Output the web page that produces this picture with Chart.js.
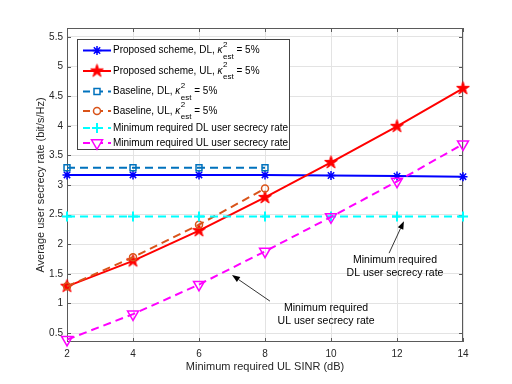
<!DOCTYPE html>
<html>
<head>
<meta charset="utf-8">
<script src="https://cdn.jsdelivr.net/npm/chart.js@4/dist/chart.umd.min.js"></script>
<style>
  html, body { margin:0; padding:0; background:#fff; }
  #wrap { width:512px; height:384px; }
</style>
</head>
<body>
<div id="wrap"><canvas id="cv" width="512" height="384"></canvas></div>
<script>
// data ----------------------------------------------------------
const sinr        = [2, 4, 6, 8, 10, 12, 14];
const proposedDL  = [3.17, 3.17, 3.17, 3.17, 3.16, 3.15, 3.14];
const proposedUL  = [1.29, 1.72, 2.23, 2.79, 3.38, 3.99, 4.63];
const baselineDL  = [3.29, 3.29, 3.29, 3.29];
const baselineUL  = [1.29, 1.78, 2.33, 2.94];
const minReqDL    = [2.47, 2.47, 2.47, 2.47, 2.47, 2.47, 2.47];
const minReqUL    = [0.39, 0.82, 1.32, 1.88, 2.46, 3.06, 3.69];

const xTicks = [2, 4, 6, 8, 10, 12, 14];
const yTicks = [0.5, 1, 1.5, 2, 2.5, 3, 3.5, 4, 4.5, 5, 5.5];

const seriesNames = [
  "Proposed scheme, DL, ",
  "Proposed scheme, UL, ",
  "Baseline, DL, ",
  "Baseline, UL, ",
  "Minimum required DL user secrecy rate",
  "Minimum required UL user secrecy rate"
];
const hasKappa = [true, true, true, true, false, false];

const notes = [
  { lines: ["Minimum required", "DL user secrecy rate"], at: [11.94, 1.73], tail: [11.76, 1.85], tip: [12.21, 2.39] },
  { lines: ["Minimum required", "UL user secrecy rate"], at: [9.85, 0.92],  tail: [8.15, 1.04],  tip: [7.0, 1.48] }
];

// style ---------------------------------------------------------
const FAM  = '"Liberation Sans", Arial, sans-serif';
const INK  = "#262626";
const GRID = "#e3e3e3";
const DASH = [8, 5];
const LEG_FS = 10;

// filled five-point star as a point image
function makePentagram(r, color) {
  const s = Math.ceil(r * 2 + 3);
  const c = document.createElement("canvas");
  c.width = s; c.height = s;
  const g = c.getContext("2d");
  g.translate(s / 2, s / 2);
  g.beginPath();
  for (let i = 0; i < 10; i++) {
    const rr = i % 2 ? r * 0.382 : r;
    const a = -Math.PI / 2 + i * Math.PI / 5;
    g.lineTo(rr * Math.cos(a), rr * Math.sin(a));
  }
  g.closePath();
  g.fillStyle = color; g.fill();
  g.strokeStyle = color; g.lineWidth = 1; g.stroke();
  return c;
}
const starImg = makePentagram(6.8, "#ff0000");

const pts = (ys) => ys.map((y, i) => ({ x: sinr[i], y }));

// markers for the hand-drawn legend
function drawMarker(ctx, kind, x, y, color) {
  ctx.save();
  ctx.strokeStyle = color; ctx.fillStyle = color; ctx.setLineDash([]);
  ctx.beginPath();
  if (kind === "asterisk") {
    ctx.lineWidth = 1.5;
    const r = 4.5;
    for (let k = 0; k < 4; k++) {
      const a = k * Math.PI / 4;
      ctx.moveTo(x - r * Math.cos(a), y - r * Math.sin(a));
      ctx.lineTo(x + r * Math.cos(a), y + r * Math.sin(a));
    }
    ctx.stroke();
  } else if (kind === "pentagram") {
    ctx.drawImage(starImg, x - starImg.width / 2, y - starImg.height / 2);
  } else if (kind === "square") {
    ctx.lineWidth = 1.5;
    ctx.fillStyle = "#fff";
    ctx.rect(x - 3, y - 3, 6, 6); ctx.fill(); ctx.stroke();
  } else if (kind === "circle") {
    ctx.lineWidth = 1.5;
    ctx.fillStyle = "#fff";
    ctx.arc(x, y, 3.5, 0, Math.PI * 2); ctx.fill(); ctx.stroke();
  } else if (kind === "plus") {
    ctx.lineWidth = 2;
    ctx.moveTo(x - 5, y); ctx.lineTo(x + 5, y);
    ctx.moveTo(x, y - 5); ctx.lineTo(x, y + 5);
    ctx.stroke();
  } else if (kind === "tridown") {
    ctx.lineWidth = 1.5;
    ctx.fillStyle = "#fff";
    ctx.moveTo(x - 5.5, y - 3.2); ctx.lineTo(x + 5.5, y - 3.2); ctx.lineTo(x, y + 6.3);
    ctx.closePath(); ctx.fill(); ctx.stroke();
  }
  ctx.restore();
}

// axes box + inward ticks (drawn under the data)
const boxPlugin = {
  id: "box",
  beforeDatasetsDraw(chart) {
    const { ctx, chartArea: a, scales } = chart;
    ctx.save();
    ctx.strokeStyle = "#5a5a5a"; ctx.lineWidth = 1;
    ctx.strokeRect(a.left + 0.5, a.top + 0.5, a.right - a.left - 1, a.bottom - a.top - 1);
    ctx.beginPath();
    xTicks.forEach(v => {
      const px = Math.round(scales.x.getPixelForValue(v)) + 0.5;
      ctx.moveTo(px, a.bottom); ctx.lineTo(px, a.bottom - 4);
      ctx.moveTo(px, a.top); ctx.lineTo(px, a.top + 4);
    });
    yTicks.forEach(v => {
      const py = Math.round(scales.y.getPixelForValue(v)) + 0.5;
      ctx.moveTo(a.left, py); ctx.lineTo(a.left + 4, py);
      ctx.moveTo(a.right, py); ctx.lineTo(a.right - 4, py);
    });
    ctx.stroke();
    ctx.restore();
  }
};

// legend with kappa^2_est labels, plus arrow notes
const overlayPlugin = {
  id: "overlay",
  afterDraw(chart) {
    const { ctx, scales } = chart;
    const ds = chart.data.datasets;
    ctx.save();

    // legend box
    const bx = 77, by = 39, bw = 213, bh = 111;
    ctx.fillStyle = "#fff";
    ctx.fillRect(bx, by, bw, bh);
    ctx.strokeStyle = "#444"; ctx.lineWidth = 1;
    ctx.strokeRect(bx + 0.5, by + 0.5, bw - 1, bh - 1);

    const rowY = [50.5, 71, 91.5, 111, 128, 143];
    ctx.textBaseline = "middle"; ctx.textAlign = "left";
    ds.forEach((d, i) => {
      const y = rowY[i];
      ctx.save();
      ctx.strokeStyle = d.borderColor; ctx.lineWidth = 2;
      ctx.setLineDash(d.borderDash || []);
      ctx.lineDashOffset = d.borderDash ? 1 : 0;
      ctx.beginPath(); ctx.moveTo(83, y); ctx.lineTo(111, y); ctx.stroke();
      ctx.restore();
      drawMarker(ctx, d.marker, 97, y, d.borderColor);

      let x = 113;
      ctx.fillStyle = "#000";
      ctx.font = `${LEG_FS}px ${FAM}`;
      ctx.fillText(seriesNames[i], x, y);
      if (!hasKappa[i]) return;
      x += ctx.measureText(seriesNames[i]).width;
      ctx.font = `italic ${LEG_FS}px ${FAM}`;
      ctx.fillText("\u03ba", x, y);
      x += ctx.measureText("\u03ba").width + 0.5;
      ctx.font = `8px ${FAM}`;
      ctx.fillText("2", x, y - 6);
      ctx.fillText("est", x, y + 6);
      x += ctx.measureText("est").width;
      ctx.font = `${LEG_FS}px ${FAM}`;
      ctx.fillText(" = 5%", x, y);
    });

    // notes with arrows
    ctx.fillStyle = "#000"; ctx.strokeStyle = "#000";
    ctx.textAlign = "center";
    ctx.font = `10.5px ${FAM}`;
    notes.forEach(n => {
      const tx = scales.x.getPixelForValue(n.at[0]);
      const ty = scales.y.getPixelForValue(n.at[1]);
      n.lines.forEach((l, k) => ctx.fillText(l, tx, ty + k * 13));
      const x0 = scales.x.getPixelForValue(n.tail[0]), y0 = scales.y.getPixelForValue(n.tail[1]);
      const x1 = scales.x.getPixelForValue(n.tip[0]),  y1 = scales.y.getPixelForValue(n.tip[1]);
      const ang = Math.atan2(y1 - y0, x1 - x0);
      const hl = 8, hw = 3;
      ctx.lineWidth = 0.8;
      ctx.beginPath(); ctx.moveTo(x0, y0);
      ctx.lineTo(x1 - hl * Math.cos(ang), y1 - hl * Math.sin(ang)); ctx.stroke();
      ctx.beginPath();
      ctx.moveTo(x1, y1);
      ctx.lineTo(x1 - hl * Math.cos(ang) + hw * Math.sin(ang), y1 - hl * Math.sin(ang) - hw * Math.cos(ang));
      ctx.lineTo(x1 - hl * Math.cos(ang) - hw * Math.sin(ang), y1 - hl * Math.sin(ang) + hw * Math.cos(ang));
      ctx.closePath(); ctx.fill();
    });
    ctx.restore();
  }
};

// chart ---------------------------------------------------------
new Chart(document.getElementById("cv"), {
  type: "line",
  data: {
    datasets: [
      { label: seriesNames[0], data: pts(proposedDL), marker: "asterisk",
        borderColor: "#0000ff", borderWidth: 2,
        pointStyle: "star", pointRadius: 4.5, pointBorderWidth: 1.5,
        pointBorderColor: "#0000ff", pointBackgroundColor: "#0000ff", order: 6 },
      { label: seriesNames[1], data: pts(proposedUL), marker: "pentagram",
        borderColor: "#ff0000", borderWidth: 2,
        pointStyle: starImg, pointRadius: 7, order: 5 },
      { label: seriesNames[2], data: pts(baselineDL), marker: "square",
        borderColor: "#0072bd", borderWidth: 2, borderDash: DASH,
        pointStyle: "rect", pointRadius: 4.2, pointBorderWidth: 1.5,
        pointBorderColor: "#0072bd", pointBackgroundColor: "rgba(0,0,0,0)", order: 4 },
      { label: seriesNames[3], data: pts(baselineUL), marker: "circle",
        borderColor: "#d95319", borderWidth: 2, borderDash: DASH,
        pointStyle: "circle", pointRadius: 3.5, pointBorderWidth: 1.5,
        pointBorderColor: "#d95319", pointBackgroundColor: "rgba(0,0,0,0)", order: 3 },
      { label: seriesNames[4], data: pts(minReqDL), marker: "plus",
        borderColor: "#00ffff", borderWidth: 2, borderDash: DASH,
        pointStyle: "cross", pointRadius: 5, pointBorderWidth: 2,
        pointBorderColor: "#00ffff", order: 2 },
      { label: seriesNames[5], data: pts(minReqUL), marker: "tridown",
        borderColor: "#ff00ff", borderWidth: 2, borderDash: DASH,
        pointStyle: "triangle", rotation: 180, pointRadius: 6.3, pointBorderWidth: 1.5,
        pointBorderColor: "#ff00ff", pointBackgroundColor: "rgba(0,0,0,0)", order: 1 }
    ].map(d => Object.assign({ fill: false, tension: 0, clip: false }, d))
  },
  options: {
    responsive: false,
    animation: false,
    devicePixelRatio: 1,
    layout: { padding: { left: 0, right: 49, top: 28, bottom: 0 } },
    plugins: { legend: { display: false }, tooltip: { enabled: false } },
    scales: {
      x: {
        type: "linear", min: 2, max: 14,
        afterBuildTicks: s => { s.ticks = xTicks.map(v => ({ value: v })); },
        afterFit: s => { s.height = 42; },
        grid: { color: GRID, drawTicks: false },
        border: { display: false },
        ticks: { font: { family: FAM, size: 10 }, color: INK, padding: 6, callback: v => String(v) },
        title: { display: true, text: "Minimum required UL SINR (dB)",
                 font: { family: FAM, size: 11 }, color: INK, padding: { top: 0, bottom: 10 } }
      },
      y: {
        type: "linear", min: 0.35, max: 5.65,
        afterBuildTicks: s => { s.ticks = yTicks.map(v => ({ value: v })); },
        afterFit: s => { s.width = 67; },
        grid: { color: GRID, drawTicks: false },
        border: { display: false },
        ticks: { font: { family: FAM, size: 10 }, color: INK, padding: 4, callback: v => String(v) },
        title: { display: true, text: "Average user secrecy rate (bit/s/Hz)",
                 font: { family: FAM, size: 11 }, color: INK, padding: { top: 34, bottom: 0 } }
      }
    }
  },
  plugins: [boxPlugin, overlayPlugin]
});
</script>
</body>
</html>
